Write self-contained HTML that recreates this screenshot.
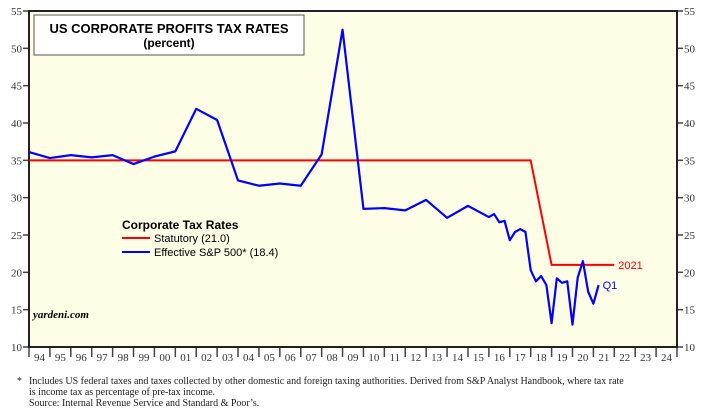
<!DOCTYPE html>
<html><head><meta charset="utf-8"><style>
body{margin:0;background:#fff;width:704px;height:412px;overflow:hidden;font-family:"Liberation Sans",sans-serif}
svg{display:block}
.tk{font-family:"Liberation Serif",serif;font-size:11px;fill:#333}
.fn{font-family:"Liberation Serif",serif;font-size:10px;fill:#222}
</style></head><body>
<svg id="chart" width="704" height="412" xmlns="http://www.w3.org/2000/svg"></svg>
<script>
const yTicks=[10,15,20,25,30,35,40,45,50,55];
const yearLabels=["94","95","96","97","98","99","00","01","02","03","04","05","06","07","08","09","10","11","12","13","14","15","16","17","18","19","20","21","22","23","24"];
const effYears=[1994,1995,1996,1997,1998,1999,2000,2001,2002,2003,2004,2005,2006,2007,2008,2009,2010,2011,2012,2013,2014,2015,2016,2016.25,2016.5,2016.75,2017,2017.25,2017.5,2017.75,2018,2018.25,2018.5,2018.75,2019,2019.25,2019.5,2019.75,2020,2020.25,2020.5,2020.75,2021,2021.25];
const effValues=[36.1,35.3,35.7,35.4,35.7,34.5,35.5,36.2,41.9,40.4,32.3,31.6,31.9,31.6,35.8,52.5,28.5,28.6,28.3,29.7,27.3,28.9,27.4,27.8,26.7,26.9,24.3,25.4,25.8,25.4,20.3,18.8,19.5,18.3,13.2,19.2,18.6,18.8,13.0,19.3,21.5,17.4,15.8,18.3];
const statYears=[1994,2018,2019,2022];
const statValues=[35,35,21,21];
const L=29,R=677,T=11,B=347;
const x=y=>L+(y-1994)*(R-L)/31;
const yv=v=>B-(v-10)*(B-T)/45;
const svg=document.getElementById('chart');const NS="http://www.w3.org/2000/svg";
function mk(t,a,txt){const e=document.createElementNS(NS,t);for(const k in a)e.setAttribute(k,a[k]);if(txt!==undefined)e.textContent=txt;svg.appendChild(e);return e;}
let e;
e=mk('rect',{x:L,y:T,width:R-L,height:B-T,fill:'#fefde6'});


yTicks.forEach(v=>{
 e=mk('line',{x1:L-6,x2:L,y1:yv(v),y2:yv(v),stroke:'#444','stroke-width':1.5});
 
 
 e=mk('line',{x1:R,x2:R+6,y1:yv(v),y2:yv(v),stroke:'#444','stroke-width':1.5});
 
 
 e=mk('text',{x:L-7,y:yv(v)+4,'text-anchor':'end',class:'tk'},v);
 
 
 e=mk('text',{x:R+7,y:yv(v)+4,class:'tk'},v);
 
 
});
for(let i=0;i<=31;i++){
 e=mk('line',{x1:x(1994+i),x2:x(1994+i),y1:B,y2:B+10,stroke:'#444','stroke-width':1.5});
 
 
}
yearLabels.forEach((l,i)=>{
 e=mk('text',{x:x(1994+i+0.5),y:B+14,'text-anchor':'middle',class:'tk'},l);
 
 
});
e=mk('rect',{x:L,y:T,width:R-L,height:B-T,fill:'none',stroke:'#222','stroke-width':2});


e=mk('polyline',{points:statYears.map((y,i)=>x(y)+','+yv(statValues[i])).join(' '),fill:'none',stroke:'#f00','stroke-width':2});


e=mk('polyline',{points:effYears.map((y,i)=>x(y)+','+yv(effValues[i])).join(' '),fill:'none',stroke:'#00f','stroke-width':2.2,'stroke-linejoin':'round'});


e=mk('text',{x:x(statYears[3])+4,y:yv(statValues[3])+4,fill:'#f00','font-size':11},'2021');


e=mk('text',{x:x(effYears[effYears.length-1])+4,y:yv(effValues[effValues.length-1])+4,fill:'#00f','font-size':11},'Q1');


e=mk('rect',{x:34,y:15,width:270,height:40,fill:'#fff',stroke:'#555','stroke-width':1});


e=mk('text',{x:169,y:33,'text-anchor':'middle','font-size':13,'font-weight':'bold'},'US CORPORATE PROFITS TAX RATES');


e=mk('text',{x:169,y:47,'text-anchor':'middle','font-size':12,'font-weight':'bold'},'(percent)');


e=mk('text',{x:122,y:229,'font-size':12,'font-weight':'bold'},'Corporate Tax Rates');


e=mk('line',{x1:122,x2:150,y1:238,y2:238,stroke:'#f00','stroke-width':2});


e=mk('text',{x:154,y:242,'font-size':11},'Statutory (21.0)');


e=mk('line',{x1:122,x2:150,y1:252,y2:252,stroke:'#00f','stroke-width':2});


e=mk('text',{x:154,y:256,'font-size':11},'Effective S&P 500* (18.4)');


e=mk('text',{x:33,y:318,'font-family':'Liberation Serif,serif','font-size':11,'font-weight':'bold','font-style':'italic'},'yardeni.com');


e=mk('text',{x:17,y:384,class:'fn'},'*');


e=mk('text',{x:29,y:384,class:'fn'},'Includes US federal taxes and taxes collected by other domestic and foreign taxing authorities. Derived from S&P Analyst Handbook, where tax rate');


e=mk('text',{x:29,y:395,class:'fn'},'is income tax as percentage of pre-tax income.');


e=mk('text',{x:29,y:406,class:'fn'},'Source: Internal Revenue Service and Standard & Poor’s.');


</script>
</body></html>
